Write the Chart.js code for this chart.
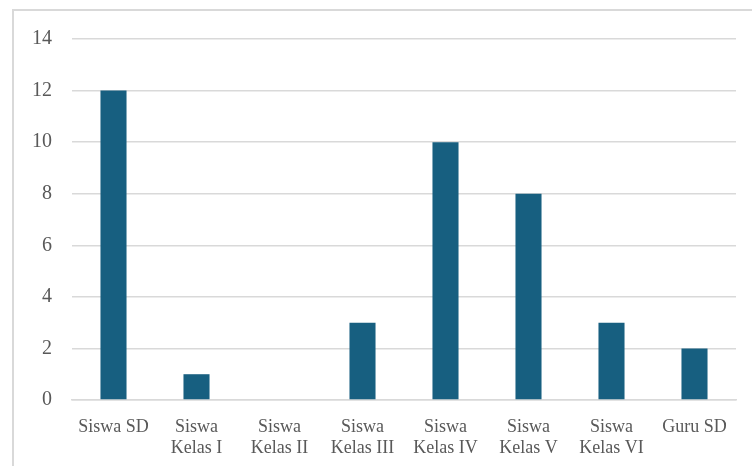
<!DOCTYPE html>
<html>
<head>
<meta charset="utf-8">
<script src="https://cdn.jsdelivr.net/npm/chart.js@4/dist/chart.umd.min.js"></script>
<style>
  html, body { margin: 0; padding: 0; background: #fff; }
  #wrap { width: 752px; height: 466px; position: relative; }
</style>
</head>
<body>
<div id="wrap"><canvas id="barChart" width="752" height="466"></canvas></div>
<script>
const categories = [['Siswa SD'], ['Siswa', 'Kelas I'], ['Siswa', 'Kelas II'], ['Siswa', 'Kelas III'],
    ['Siswa', 'Kelas IV'], ['Siswa', 'Kelas V'], ['Siswa', 'Kelas VI'], ['Guru SD']];
const counts = [12, 1, 0, 3, 10, 8, 3, 2];
const yMin = 0;
const yMax = 14;
const yStep = 2;

// light frame around the whole chart
const framePlugin = {
    id: 'frame',
    beforeDraw(chart) {
        const c = chart.ctx;
        c.save();
        c.strokeStyle = '#d9d9d9';
        c.lineWidth = 2;
        c.strokeRect(13, 10, 780, 500);
        c.restore();
    }
};

const ctx = document.getElementById('barChart').getContext('2d');
const barChart = new Chart(ctx, {
    type: 'bar',
    data: {
        labels: categories,
        datasets: [{
            data: counts,
            backgroundColor: '#175f80',
            borderWidth: 0,
            barPercentage: 0.314,
            categoryPercentage: 1
        }]
    },
    options: {
        responsive: false,
        animation: false,
        layout: { padding: { left: 0, right: 16, top: 39, bottom: 0 } },
        plugins: {
            legend: { display: false },
            tooltip: { enabled: false }
        },
        scales: {
            y: {
                min: yMin,
                max: yMax,
                ticks: {
                    stepSize: yStep,
                    color: '#595959',
                    padding: 20,
                    font: { family: 'Liberation Serif', size: 20 }
                },
                border: { display: false },
                grid: { color: '#d9d9d9', lineWidth: 1.5, drawTicks: false },
                afterFit(scale) { scale.width = 72; }
            },
            x: {
                ticks: {
                    color: '#595959',
                    padding: 9,
                    maxRotation: 0,
                    autoSkip: false,
                    font: { family: 'Liberation Serif', size: 18, lineHeight: 1.17 }
                },
                border: { color: '#d9d9d9', width: 1.5 },
                grid: { display: false },
                afterFit(scale) { scale.height = 66; }
            }
        }
    },
    plugins: [framePlugin]
});
</script>
</body>
</html>
